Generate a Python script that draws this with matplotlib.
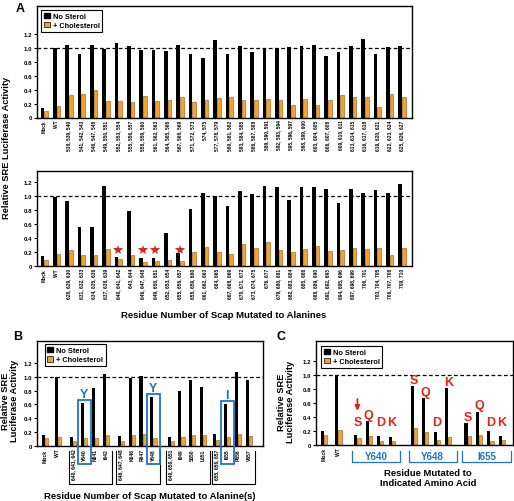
import matplotlib
matplotlib.use('Agg')
import matplotlib.pyplot as plt
from matplotlib.patches import Rectangle, Patch
from matplotlib.lines import Line2D
import numpy as np

plt.rcParams['font.family'] = ['Liberation Sans', 'DejaVu Sans']
plt.rcParams['font.weight'] = 'bold'

# ---------------- data ----------------
a1_labels = ["Mock", "WT", "538, 539, 540", "541, 542, 543", "546, 547, 548", "549, 550, 551",
             "552, 553, 554", "555, 556, 557", "558, 559, 560", "561, 562, 563", "564, 565, 566",
             "567, 568, 569", "571, 572, 573", "574, 575", "577, 578, 579", "580, 581, 582",
             "583, 584, 585", "586, 587, 588", "589, 590, 591", "592, 593, 594", "595, 596, 597",
             "598, 599, 600", "603, 604, 605", "606, 607, 608", "609, 610, 611", "613, 614, 615",
             "616, 617, 618", "619, 620, 621", "622, 623, 624", "625, 626, 627"]
a1_nosterol = [0.135, 1.0, 1.05, 0.92, 1.04, 0.995, 1.08, 1.03, 0.98, 0.975, 0.955, 1.05, 0.92,
               0.855, 1.125, 0.92, 1.03, 0.94, 1.0, 1.0, 1.015, 1.03, 1.045, 0.89, 0.95, 1.03,
               1.13, 0.91, 1.015, 1.03]
a1_chol = [0.087, 0.165, 0.32, 0.34, 0.39, 0.24, 0.24, 0.23, 0.31, 0.24, 0.25, 0.295, 0.22, 0.25,
           0.28, 0.29, 0.25, 0.25, 0.265, 0.25, 0.18, 0.265, 0.18, 0.25, 0.32, 0.30, 0.295, 0.155,
           0.34, 0.295]

a2_labels = ["Mock", "WT", "628, 629, 630", "631, 632, 633", "634, 635, 636", "637, 638, 639",
             "640, 641, 642", "643, 644", "646, 647, 648", "649, 650, 651", "652, 653, 654",
             "655, 656, 657", "658, 659, 660", "661, 662, 663", "664, 665", "667, 668, 669",
             "670, 671, 672", "673, 674, 675", "676, 677", "679, 680, 681", "682, 683, 684",
             "685, 686", "688, 689, 690", "691, 692, 693", "694, 695, 696", "697, 698, 699",
             "700, 701", "703, 704, 705", "706, 707, 708", "709, 710"]
a2_nosterol = [0.143, 0.985, 0.92, 0.55, 0.55, 1.14, 0.128, 0.785, 0.12, 0.12, 0.465, 0.18, 0.82,
               1.04, 1.0, 0.85, 1.07, 1.02, 1.14, 1.12, 0.94, 1.12, 1.12, 1.095, 0.895, 1.095,
               1.04, 1.085, 1.04, 1.165]
a2_chol = [0.09, 0.167, 0.233, 0.152, 0.152, 0.248, 0.105, 0.162, 0.052, 0.07, 0.09, 0.076, 0.195,
           0.276, 0.205, 0.167, 0.31, 0.262, 0.348, 0.224, 0.2, 0.238, 0.286, 0.214, 0.224, 0.262,
           0.238, 0.252, 0.157, 0.262]
a2_starred = ["640, 641, 642", "646, 647, 648", "649, 650, 651", "655, 656, 657"]

b_controls = ["Mock", "WT"]
b_ctrl_nosterol = [0.16, 0.995]
b_ctrl_chol = [0.115, 0.14]
b_groups = [["640, 641, 642", "Y640", "N641", "I642"],
            ["646, 647, 648", "K646", "R647", "Y648"],
            ["649, 650, 651", "I649", "S650", "L651"],
            ["655, 656, 657", "I655", "P656", "V657"]]
b_nosterol = [[0.14, 0.62, 0.83, 1.03],
              [0.143, 0.985, 1.015, 0.705],
              [0.14, 0.795, 0.95, 0.85],
              [0.176, 0.605, 1.07, 0.95]]
b_chol = [[0.07, 0.115, 0.115, 0.16],
          [0.076, 0.16, 0.176, 0.115],
          [0.076, 0.14, 0.16, 0.16],
          [0.09, 0.14, 0.176, 0.15]]
b_boxed = {"Y640": "Y", "Y648": "Y", "I655": "I"}

c_controls = ["Mock", "WT"]
c_ctrl_nosterol = [0.205, 1.0]
c_ctrl_chol = [0.143, 0.22]
c_sites = ["Y640", "Y648", "I655"]
c_aas = ["S", "Q", "D", "K"]
c_nosterol = [[0.143, 0.34, 0.133, 0.12],
              [0.848, 0.67, 0.186, 0.814],
              [0.314, 0.476, 0.2, 0.133]]
c_chol = [[0.095, 0.124, 0.062, 0.052],
          [0.243, 0.18, 0.067, 0.114],
          [0.129, 0.138, 0.052, 0.067]]

# ---------------- style ----------------
W, H = 514, 502
ORANGE = '#f5a030'
OEDGE = '#8a5514'
BLUE = '#1e74c6'
RED = '#e2231a'
yt = [0, 0.2, 0.4, 0.6, 0.8, 1.0, 1.2]
ytl = ['0', '0.2', '0.4', '0.6', '0.8', '1.0', '1.2']

fig = plt.figure(figsize=(W / 100, H / 100), dpi=100)


def rect(l, t, r, b):
    return [l / W, 1 - b / H, (r - l) / W, (b - t) / H]


def style(ax, xlim, ylim):
    ax.set_xlim(*xlim)
    ax.set_ylim(*ylim)
    ax.set_yticks(yt)
    ax.set_yticklabels(ytl, fontsize=4.4, fontweight='bold')
    ax.tick_params(axis='y', length=2, width=0.8, pad=1.5)
    ax.tick_params(axis='x', length=0, pad=1.5)
    for s in ax.spines.values():
        s.set_linewidth(1.0)
    ax.axhline(1.0, color='k', lw=0.9, ls=(0, (3, 2)), zorder=1)


def draw_bars(ax, pos, ns, ch, w):
    pos = np.asarray(pos, float)
    ax.bar(pos - w / 2, ns, w, color='k', zorder=2)
    ax.bar(pos + w / 2, ch, w, color=ORANGE, edgecolor=OEDGE, lw=0.4, zorder=2)


def legend(ax, x, y):
    handles = [Patch(facecolor='k', edgecolor='k'),
               Patch(facecolor=ORANGE, edgecolor='k', lw=0.5)]
    lg = ax.legend(handles, ['No Sterol', '+ Cholesterol'], loc='upper left',
                   bbox_to_anchor=(x, y), borderaxespad=0, frameon=True, fancybox=False,
                   edgecolor='k', framealpha=1, prop={'weight': 'bold', 'size': 5.3},
                   handlelength=0.8, handleheight=0.8, handletextpad=0.4, borderpad=0.35,
                   labelspacing=0.25)
    lg.get_frame().set_linewidth(0.8)


# ---------------- Panel A ----------------
axA1 = fig.add_axes(rect(37, 7, 412, 118.5))
xa1 = np.arange(len(a1_labels))
draw_bars(axA1, xa1, a1_nosterol, a1_chol, 0.3)
style(axA1, (-0.6, 29.8), (0, 1.61))
axA1.set_xticks(xa1)
axA1.set_xticklabels(a1_labels, rotation=90, fontsize=3.5, fontweight='bold', va='top')
legend(axA1, 0.011, 0.964)

axA2 = fig.add_axes(rect(37, 172, 412, 267))
xa2 = np.arange(len(a2_labels))
draw_bars(axA2, xa2, a2_nosterol, a2_chol, 0.3)
style(axA2, (-0.6, 29.8), (0, 1.355))
axA2.set_xticks(xa2)
axA2.set_xticklabels(a2_labels, rotation=90, fontsize=3.5, fontweight='bold', va='top')
for lab in a2_starred:
    i = a2_labels.index(lab)
    axA2.plot(xa2[i], 0.235, marker='*', color=RED, ms=7.5, mew=0, zorder=3)

fig.text(20 / W, 1 - 9 / H, 'A', fontsize=9, fontweight='bold', ha='center', va='center')
fig.text(7 / W, 1 - 148 / H, 'Relative SRE Luciferase Activity', rotation=90, fontsize=6.7,
         fontweight='bold', ha='center', va='center')
fig.text(224 / W, 1 - 316 / H, 'Residue Number of Scap Mutated to Alanines', fontsize=6.8,
         fontweight='bold', ha='center', va='center')

# ---------------- Panel B ----------------
axB = fig.add_axes(rect(37, 342, 263, 447.3))
b_pos = [0.0, 1.15]
b_labels = list(b_controls)
b_ns = list(b_ctrl_nosterol)
b_ch = list(b_ctrl_chol)
b_group_start = [2.5, 6.65, 11.0, 15.0]
b_step = 0.95
b_group_pos = []
for g, start in enumerate(b_group_start):
    gp = [start + j * b_step for j in range(len(b_groups[g]))]
    b_group_pos.append(gp)
    b_pos += gp
    b_labels += b_groups[g]
    b_ns += b_nosterol[g]
    b_ch += b_chol[g]
draw_bars(axB, b_pos, b_ns, b_ch, 0.27)
style(axB, (-0.67, 19.07), (0, 1.51))
axB.set_xticks(b_pos)
axB.set_xticklabels(b_labels, rotation=90, fontsize=3.6, fontweight='bold', va='top')
legend(axB, 0.035, 0.97)

for g, gp in enumerate(b_group_pos):
    x0, x1 = gp[0] - 0.4, gp[-1] + 0.55
    axB.add_line(Line2D([x0, x0, x1, x1], [-0.07, -0.54, -0.54, -0.07], color='k', lw=0.8,
                        clip_on=False))
    for j, lab in enumerate(b_groups[g]):
        if lab in b_boxed:
            top = b_nosterol[g][j] + 0.05
            axB.add_patch(Rectangle((gp[j] - 0.57, -0.25), 1.14, top + 0.25, fill=False,
                                    edgecolor=BLUE, lw=1.3, clip_on=False, zorder=4))
            axB.text(gp[j], top + 0.085, b_boxed[lab], color=BLUE, fontsize=9,
                     fontweight='bold', ha='center', va='center')

fig.text(17.5 / W, 1 - 337.5 / H, 'B', fontsize=9, fontweight='bold', ha='center', va='center')
fig.text(10 / W, 1 - 401 / H, 'Relative SRE\nLuciferase Activity', rotation=90, fontsize=6.7,
         fontweight='bold', ha='center', va='center', linespacing=0.95)
fig.text(150 / W, 1 - 497 / H, 'Residue Number of Scap Mutated to Alanine(s)', fontsize=6.8,
         fontweight='bold', ha='center', va='center')

# ---------------- Panel C ----------------
axC = fig.add_axes(rect(316, 342, 513, 446))
c_ctrl_pos = [0.0, 1.22]
draw_bars(axC, c_ctrl_pos, c_ctrl_nosterol, c_ctrl_chol, 0.27)
c_group_start = [2.85, 7.7, 12.3]
c_step = 0.98
for g, start in enumerate(c_group_start):
    gp = [start + j * c_step for j in range(len(c_aas))]
    draw_bars(axC, gp, c_nosterol[g], c_chol[g], 0.27)
    for j, aa in enumerate(c_aas):
        ly = max(c_nosterol[g][j] + 0.09, 0.333)
        axC.text(gp[j], ly, aa, color=RED, fontsize=9, fontweight='bold', ha='center',
                 va='center')
    x0, x1 = gp[0] - 0.45, gp[-1] + 0.75
    axC.add_line(Line2D([x0, x0, x1, x1], [-0.086, -0.24, -0.24, -0.086], color=BLUE, lw=0.9,
                        clip_on=False))
    axC.text((x0 + x1) / 2, -0.16, c_sites[g], color=BLUE, fontsize=7, fontweight='bold',
             ha='center', va='center')
    if g == 0:
        axC.annotate('', xy=(gp[0], 0.49), xytext=(gp[0], 0.66),
                     arrowprops=dict(arrowstyle='-|>', color=RED, lw=1.3, mutation_scale=7,
                                     shrinkA=0, shrinkB=0))
style(axC, (-0.7, 16.2), (0, 1.49))
axC.set_xticks(c_ctrl_pos)
axC.set_xticklabels(c_controls, rotation=90, fontsize=3.6, fontweight='bold', va='top')
legend(axC, 0.026, 0.952)

fig.text(281 / W, 1 - 337.5 / H, 'C', fontsize=9, fontweight='bold', ha='center', va='center')
fig.text(286 / W, 1 - 402 / H, 'Relative SRE\nLuciferase Activity', rotation=90, fontsize=6.7,
         fontweight='bold', ha='center', va='center', linespacing=0.95)
fig.text(428 / W, 1 - 478.5 / H, 'Residue Mutated to\nIndicated Amino Acid', fontsize=6.8,
         fontweight='bold', ha='center', va='center', linespacing=1.1)

fig.savefig('out.png', dpi=100)
